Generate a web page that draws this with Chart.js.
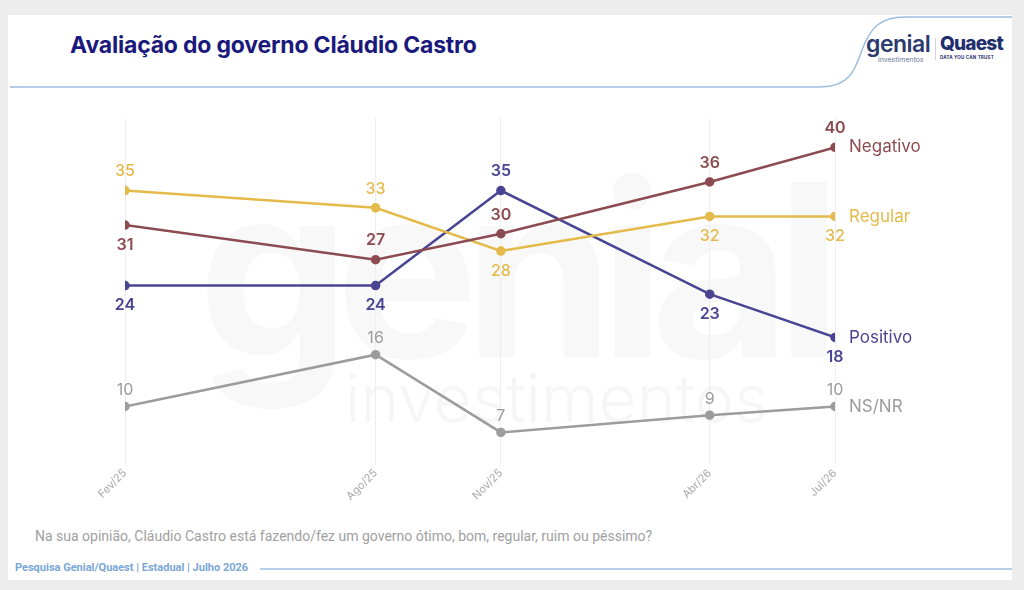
<!DOCTYPE html>
<html>
<head>
<meta charset="utf-8">
<script src="https://cdn.jsdelivr.net/npm/chart.js@4.4.1/dist/chart.umd.min.js"></script>
<style>
  html, body { margin: 0; padding: 0; width: 1024px; height: 590px; overflow: hidden; background: #ededed; font-family: Inter, 'Open Sans', sans-serif; }
  #card { position: absolute; left: 8px; top: 15px; width: 1004px; height: 565px; background: #fff; }
  #title { position: absolute; left: 70px; top: 31px; font-size: 23px; font-weight: 700; color: #1b1a7c; letter-spacing: -0.2px; }
  #deco { position: absolute; left: 0; top: 0; }
  #logo1 { position: absolute; left: 866px; top: 32px; color: #2d3a6e; font-family: Inter, sans-serif; }
  #logo1 .big { font-size: 23px; font-weight: 600; letter-spacing: -0.5px; line-height: 24px; }
  #logo1 .small { font-size: 7px; color: #6b7a99; margin-left: 12px; line-height: 7px; }
  #logo2 { position: absolute; left: 940px; top: 33px; color: #1f2f6e; font-family: Inter, sans-serif; }
  #logo2 .big { font-size: 19px; font-weight: 800; letter-spacing: -0.8px; line-height: 22px; }
  #logo2 .small { font-size: 4.5px; font-weight: 700; line-height: 6px; letter-spacing: 0.2px; }
  #sep { position: absolute; left: 935px; top: 38px; width: 1px; height: 22px; background: #d0d4de; }
  #wm1 { position: absolute; left: 198px; top: 150px; font-size: 240px; font-weight: 700; color: #f8f8f8; letter-spacing: -14px; line-height: 240px; }
  #wm2 { position: absolute; left: 345px; top: 365px; font-size: 66px; font-weight: 300; color: #f6f6f6; line-height: 66px; }
  #chartBox { position: absolute; left: 0; top: 100px; width: 1024px; height: 409px; }
  #question { position: absolute; left: 35px; top: 528px; font-family: Roboto, sans-serif; font-size: 14px; color: #a0a0a0; }
  #footer { position: absolute; left: 15px; top: 561px; font-family: Roboto, sans-serif; font-size: 11px; font-weight: 700; color: #7aa6d6; }
</style>
</head>
<body>
<div id="card"></div>
<svg id="deco" width="1024" height="590">
  <path d="M10 87 L820 87 C850 87 855 70 862 50 C870 28 880 17 905 17 L1012 17" fill="none" stroke="#9cbfe0" stroke-width="1.5"/>
  <line x1="260" y1="569" x2="1012" y2="569" stroke="#9cbfe0" stroke-width="1.5"/>
</svg>
<div id="wm1">genial</div>
<div id="wm2">investimentos</div>
<div id="title">Avaliação do governo Cláudio Castro</div>
<div id="logo1"><div class="big">genial</div><div class="small">investimentos</div></div>
<div id="sep"></div>
<div id="logo2"><div class="big">Quaest</div><div class="small">DATA YOU CAN TRUST</div></div>
<div id="chartBox"><canvas id="evalChart"></canvas></div>
<div id="question">Na sua opinião, Cláudio Castro está fazendo/fez um governo ótimo, bom, regular, ruim ou péssimo?</div>
<div id="footer">Pesquisa Genial/Quaest | Estadual | Julho 2026</div>

<script>
// survey waves (months since Feb/25) and their labels
const waveLabels = ['Fev/25', 'Ago/25', 'Nov/25', 'Abr/26', 'Jul/26'];
const waveMonths = [0, 6, 9, 14, 17];

const seriesNames = ['Negativo', 'Regular', 'Positivo', 'NS/NR'];
const negativo = [31, 27, 30, 36, 40];
const regular = [35, 33, 28, 32, 32];
const positivo = [24, 24, 35, 23, 18];
const nsnr = [10, 16, 7, 9, 10];

// which side of the point each value label sits on
const labelSides = [
  ['down', 'up', 'up', 'up', 'up'],
  ['up', 'up', 'down', 'down', 'down'],
  ['down', 'down', 'up', 'down', 'down'],
  ['up', 'up', 'up', 'up', 'up'],
];

const colors = ['#8c4b50', '#e4ba4b', '#4a4592', '#9c9c9c'];
const weights = ['600', '500', '600', '400'];
const gaps = [19, 19, 19, 16];

const toPoints = (vals) => vals.map((v, i) => ({ x: waveMonths[i], y: v }));

const valueLabels = {
  id: 'valueLabels',
  afterDatasetsDraw(chart) {
    const ctx = chart.ctx;
    ctx.save();
    ctx.textBaseline = 'middle';
    chart.data.datasets.forEach((ds, i) => {
      const meta = chart.getDatasetMeta(i);
      ctx.fillStyle = colors[i];
      ctx.textAlign = 'center';
      ctx.font = weights[i] + ' 16px Inter, sans-serif';
      meta.data.forEach((pt, j) => {
        const dy = labelSides[i][j] === 'up' ? -gaps[i] : gaps[i] + 1;
        ctx.fillText(ds.data[j].y, pt.x, pt.y + dy);
      });
      const last = meta.data[meta.data.length - 1];
      ctx.textAlign = 'left';
      ctx.font = '400 17px Inter, sans-serif';
      ctx.fillText(seriesNames[i], last.x + 14, last.y);
    });
    ctx.restore();
  },
};

const series = [negativo, regular, positivo, nsnr];

new Chart(document.getElementById('evalChart'), {
  type: 'line',
  data: {
    datasets: series.map((vals, i) => ({
      label: seriesNames[i],
      data: toPoints(vals),
      borderColor: colors[i],
      backgroundColor: colors[i],
      borderWidth: 2.5,
      pointRadius: 3.5,
      pointHoverRadius: 3.5,
      tension: 0,
    })),
  },
  options: {
    responsive: true,
    maintainAspectRatio: false,
    animation: false,
    layout: { padding: { left: 125, right: 189, top: 18, bottom: 4 } },
    plugins: { legend: { display: false }, tooltip: { enabled: false } },
    scales: {
      x: {
        type: 'linear',
        min: waveMonths[0],
        max: waveMonths[waveMonths.length - 1],
        afterBuildTicks: (axis) => {
          axis.ticks = waveMonths.map((v) => ({ value: v }));
        },
        ticks: {
          callback: (v) => waveLabels[waveMonths.indexOf(v)],
          maxRotation: 45,
          minRotation: 45,
          autoSkip: false,
          color: '#a8a8a8',
          font: { size: 11, family: 'Inter, sans-serif' },
          padding: 2,
        },
        grid: { color: '#eeeeee', lineWidth: 1, tickLength: 8 },
        border: { display: false },
      },
      y: {
        display: false,
        min: 4.2,
        max: 43.4,
      },
    },
  },
  plugins: [valueLabels],
});
</script>
</body>
</html>
